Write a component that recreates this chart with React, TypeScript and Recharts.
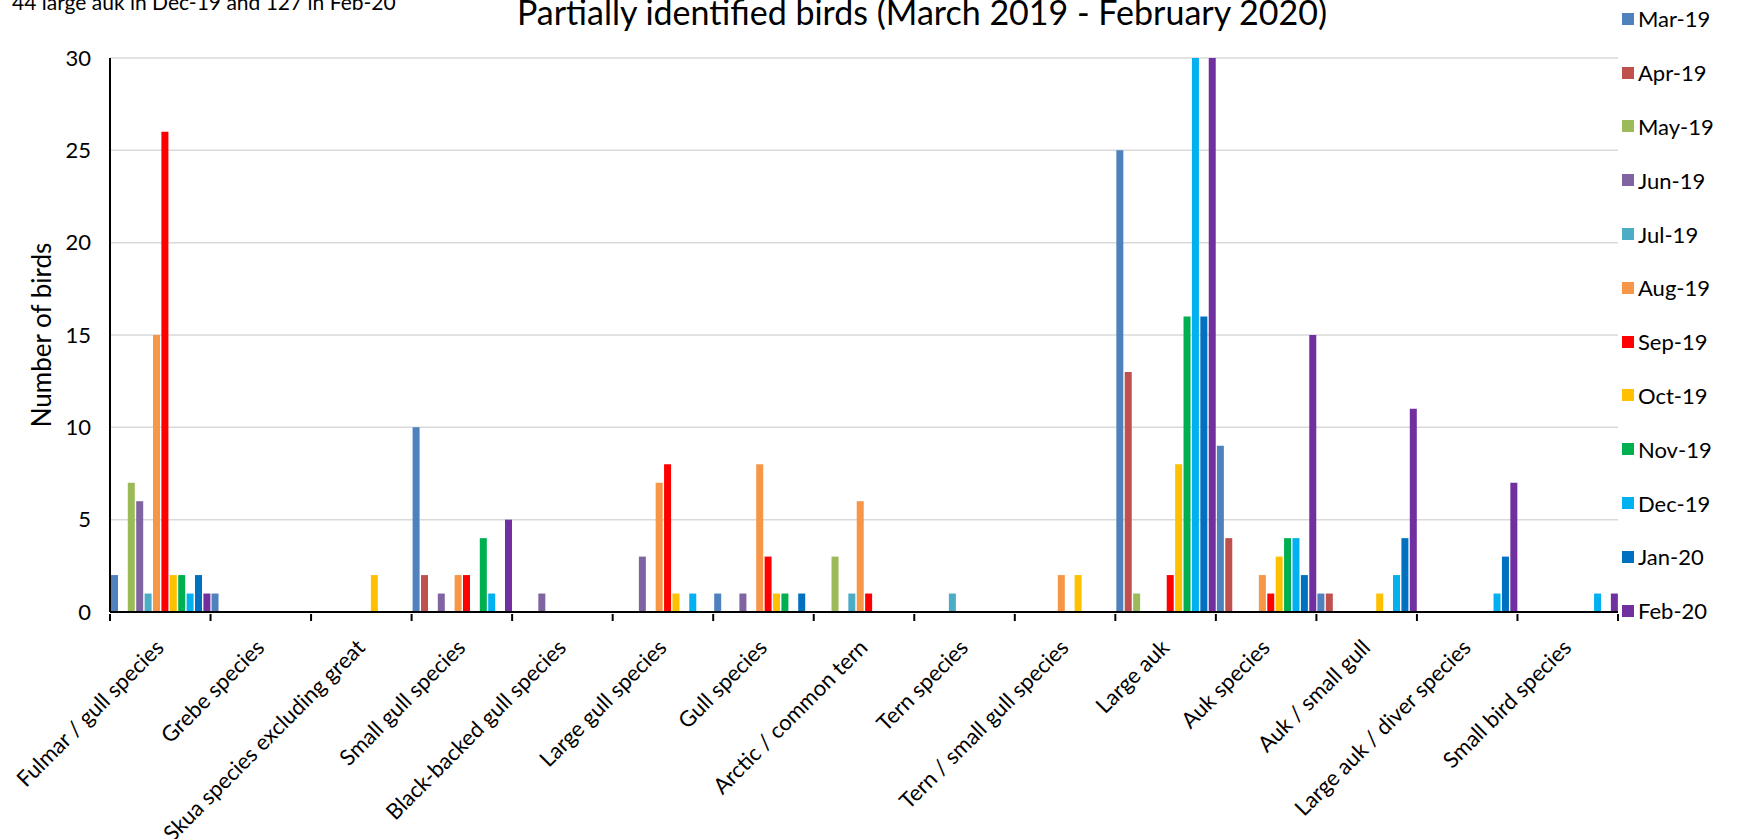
import React from 'react';
import { BarChart, Bar, XAxis, YAxis, CartesianGrid, Label } from 'recharts';

const categories = [
  'Fulmar / gull species',
  'Grebe species',
  'Skua species excluding great',
  'Small gull species',
  'Black-backed gull species',
  'Large gull species',
  'Gull species',
  'Arctic / common tern',
  'Tern species',
  'Tern / small gull species',
  'Large auk',
  'Auk species',
  'Auk / small gull',
  'Large auk / diver species',
  'Small bird species',
];

const months = ['Mar-19', 'Apr-19', 'May-19', 'Jun-19', 'Jul-19', 'Aug-19', 'Sep-19', 'Oct-19', 'Nov-19', 'Dec-19', 'Jan-20', 'Feb-20'];
const colors = ['#4f81bd', '#c0504d', '#9bbb59', '#8064a2', '#4bacc6', '#f79646', '#ff0000', '#ffc000', '#00b050', '#00b0f0', '#0070c0', '#7030a0'];

// one value per category, in the order above
const mar19 = [2, 1, 0, 10, 0, 0, 1, 0, 0, 0, 25, 9, 1, 0, 0];
const apr19 = [0, 0, 0, 2, 0, 0, 0, 0, 0, 0, 13, 4, 1, 0, 0];
const may19 = [7, 0, 0, 0, 0, 0, 0, 3, 0, 0, 1, 0, 0, 0, 0];
const jun19 = [6, 0, 0, 1, 1, 3, 1, 0, 0, 0, 0, 0, 0, 0, 0];
const jul19 = [1, 0, 0, 0, 0, 0, 0, 1, 1, 0, 0, 0, 0, 0, 0];
const aug19 = [15, 0, 0, 2, 0, 7, 8, 6, 0, 2, 0, 2, 0, 0, 0];
const sep19 = [26, 0, 0, 2, 0, 8, 3, 1, 0, 0, 2, 1, 0, 0, 0];
const oct19 = [2, 0, 2, 0, 0, 1, 1, 0, 0, 2, 8, 3, 1, 0, 0];
const nov19 = [2, 0, 0, 4, 0, 0, 1, 0, 0, 0, 16, 4, 0, 0, 0];
const dec19 = [1, 0, 0, 1, 0, 1, 0, 0, 0, 0, 44, 4, 2, 1, 1];
const jan20 = [2, 0, 0, 0, 0, 0, 1, 0, 0, 0, 16, 2, 4, 3, 0];
const feb20 = [1, 0, 0, 5, 0, 0, 0, 0, 0, 0, 127, 15, 11, 7, 1];

const seriesValues = [mar19, apr19, may19, jun19, jul19, aug19, sep19, oct19, nov19, dec19, jan20, feb20];
const yTicks = [0, 5, 10, 15, 20, 25, 30];

const rows = categories.map((name, i) => {
  const row: Record<string, string | number> = { name };
  months.forEach((m, j) => {
    row[m] = seriesValues[j][i];
  });
  return row;
});

const W = 1751;
const H = 839;
const PLOT_LEFT = 110;
const PLOT_RIGHT = 1618;
const BAND = (PLOT_RIGHT - PLOT_LEFT) / categories.length;
const FONT = 'Lato, "Open Sans", sans-serif';

function CategoryTick(props: any) {
  const { x, y, payload, index } = props;
  const half = BAND / 2;
  const tx = x + 5;
  const ty = y + 35;
  return (
    <g>
      <line x1={x - half} x2={x - half} y1={y} y2={y + 7} stroke="#000" strokeWidth={2} />
      {index === categories.length - 1 && (
        <line x1={x + half} x2={x + half} y1={y} y2={y + 7} stroke="#000" strokeWidth={2} />
      )}
      <text
        x={tx}
        y={ty}
        transform={`rotate(-45, ${tx}, ${ty})`}
        textAnchor="end"
        fontSize={22}
        fontFamily={FONT}
        fill="#000"
      >
        {payload.value}
      </text>
    </g>
  );
}

export default function App() {
  return (
    <div style={{ position: 'absolute', left: 0, top: 0, width: W, height: H, background: '#fff', overflow: 'hidden' }}>
      <BarChart
        width={W}
        height={H}
        data={rows}
        margin={{ top: 58, right: W - PLOT_RIGHT, bottom: 0, left: 0 }}
        barSize={7}
        barGap={1.4}
      >
        <CartesianGrid vertical={false} stroke="#d9d9d9" strokeWidth={1.5} />
        <XAxis
          dataKey="name"
          height={227}
          interval={0}
          tickLine={false}
          tickSize={0}
          axisLine={{ stroke: '#000', strokeWidth: 2 }}
          tick={(p: any) => <CategoryTick {...p} />}
        />
        <YAxis
          width={PLOT_LEFT}
          domain={[0, 30]}
          ticks={yTicks}
          allowDataOverflow
          tickLine={false}
          tickSize={0}
          tickMargin={19}
          axisLine={{ stroke: '#000', strokeWidth: 2 }}
          tick={{ fill: '#000', fontSize: 22, fontFamily: FONT }}
        >
          <Label
            content={() => (
              <text
                x={41}
                y={335}
                transform="rotate(-90, 41, 335)"
                textAnchor="middle"
                dominantBaseline="central"
                fontSize={26}
                fontFamily={FONT}
                fill="#000"
              >
                Number of birds
              </text>
            )}
          />
        </YAxis>
        {months.map((m, j) => (
          <Bar key={m} dataKey={m} fill={colors[j]} isAnimationActive={false} />
        ))}
      </BarChart>

      <svg width={W} height={H} style={{ position: 'absolute', left: 0, top: 0, pointerEvents: 'none' }}>
        <text x={922} y={25} textAnchor="middle" fontSize={34} fontFamily={FONT} fill="#000">
          Partially identified birds (March 2019 - February 2020)
        </text>
        <text x={12} y={10} fontSize={21} fontFamily={FONT} fill="#000">
          44 large auk in Dec-19 and 127 in Feb-20
        </text>
      </svg>

      <div style={{ position: 'absolute', left: 1622, top: 19 - 27, fontFamily: FONT, fontSize: 22 }}>
        {months.map((m, j) => (
          <div key={m} style={{ height: 53.8, display: 'flex', alignItems: 'center' }}>
            <span style={{ width: 12, height: 12, background: colors[j], marginRight: 4, display: 'inline-block' }} />
            <span>{m}</span>
          </div>
        ))}
      </div>
    </div>
  );
}
